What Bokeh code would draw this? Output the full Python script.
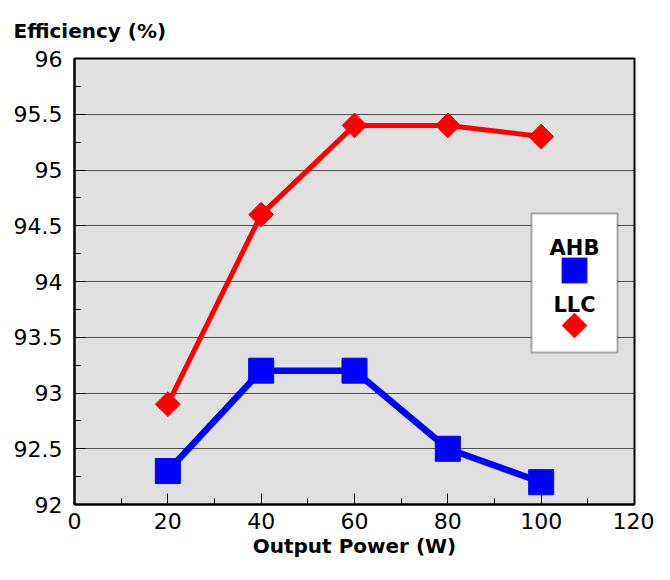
import numpy as np
from bokeh.plotting import figure
from bokeh.models import (Range1d, SingleIntervalTicker, CustomJSTickFormatter, Label,
                          BoxAnnotation, Legend, LegendItem)
from bokeh.embed import file_html
from bokeh.resources import INLINE

# ---- data ----
power = [20, 40, 60, 80, 100]
ahb = [92.3, 93.2, 93.2, 92.5, 92.2]
llc = [92.9, 94.6, 95.4, 95.4, 95.3]
series_names = ["AHB", "LLC"]
x_title = "Output Power (W)"
y_title = "Efficiency (%)"
x_lo, x_hi = 0, 120
y_lo, y_hi = 92, 96

FONT = "DejaVu Sans"
W, H = 654, 564
BL, BR, BT, BB = 74, 20, 58, 60
FW, FH = W - BL - BR, H - BT - BB  # frame size in px

p = figure(width=W, height=H, output_backend="svg", toolbar_location=None,
           x_range=Range1d(x_lo, x_hi), y_range=Range1d(y_lo, y_hi),
           min_border_left=BL, min_border_right=BR, min_border_top=BT, min_border_bottom=BB)
p.background_fill_color = "#e0e0e0"
p.border_fill_color = "white"
p.outline_line_color = "black"
p.outline_line_width = 2

# title at top-left (y axis title)
p.title.text = y_title
p.title.align = "left"
p.title.offset = -61
p.title.standoff = 31
p.title.text_font = FONT
p.title.text_font_style = "bold"
p.title.text_font_size = "20px"
p.title.text_color = "black"

fmt = CustomJSTickFormatter(code="return String(tick);")
p.xaxis.ticker = SingleIntervalTicker(interval=20, num_minor_ticks=2)
p.yaxis.ticker = SingleIntervalTicker(interval=0.5, num_minor_ticks=2)
for ax in (p.xaxis, p.yaxis):
    ax.formatter = fmt
    ax.axis_line_color = "black"
    ax.axis_line_width = 2
    ax.major_tick_line_color = "black"
    ax.minor_tick_line_color = "black"
    ax.major_tick_line_width = 1
    ax.minor_tick_line_width = 1
    ax.major_tick_out = 0
    ax.minor_tick_out = 0
    ax.major_tick_in = 11
    ax.minor_tick_in = 6
    ax.major_label_text_font = FONT
    ax.major_label_text_font_size = "22px"
    ax.major_label_text_color = "black"
    ax.axis_label_text_font = FONT
    ax.axis_label_text_font_style = "bold"
    ax.axis_label_text_font_size = "20px"
    ax.axis_label_text_color = "black"
p.xaxis.major_label_standoff = 8
p.yaxis.major_label_standoff = 12
p.xaxis.axis_label = x_title
p.xaxis.axis_label_standoff = 2

p.xgrid.visible = False
p.ygrid.grid_line_color = "#505050"
p.ygrid.grid_line_width = 1

l_ahb = p.line(power, ahb, line_color="#0000ff", line_width=6.5, line_join="round", line_cap="round")
s_ahb = p.scatter(power, ahb, marker="square", size=25, color="#0000ff")
l_llc = p.line(power, llc, line_color="#ff0000", line_width=5, line_join="round", line_cap="round")
s_llc = p.scatter(power, llc, marker="square", angle=np.pi / 4, size=17.5, color="#ff0000")

# ---- legend (positions in frame pixels) ----
box_l, box_r, box_b, box_t = 457, 543, 152, 291
glyph_cx = (box_l + box_r) / 2
ahb_gy, llc_gy = 234, 179
p.add_layout(BoxAnnotation(left=box_l, right=box_r, bottom=box_b, top=box_t,
                           left_units="screen", right_units="screen",
                           bottom_units="screen", top_units="screen",
                           fill_color="white", fill_alpha=1, line_color="black", line_width=2,
                           level="annotation"))
g = 62
p.add_layout(Legend(items=[LegendItem(label=" ", renderers=[s_ahb])],
                    location=(glyph_cx - g / 2, ahb_gy - g / 2),
                    background_fill_alpha=0, border_line_alpha=0,
                    padding=0, margin=0, spacing=0, glyph_height=g, glyph_width=g,
                    label_standoff=0, label_width=0, label_text_font_size="1px"))
# LLC legend key: a rotated square placed at the legend pixel position
llc_key = p.scatter(x=[x_lo + glyph_cx / FW * (x_hi - x_lo)],
                    y=[y_lo + llc_gy / FH * (y_hi - y_lo)],
                    marker="square", angle=np.pi / 4, size=17.5, color="#ff0000",
                    level="overlay")
for name, yb in zip(series_names, [257, 200]):
    p.add_layout(Label(x=glyph_cx, y=yb, x_units="screen", y_units="screen", text=name,
                       text_font=FONT, text_font_style="bold", text_font_size="21px",
                       text_baseline="alphabetic", text_align="center", text_color="black"))

open("out.html", "w").write(file_html(p, INLINE))
